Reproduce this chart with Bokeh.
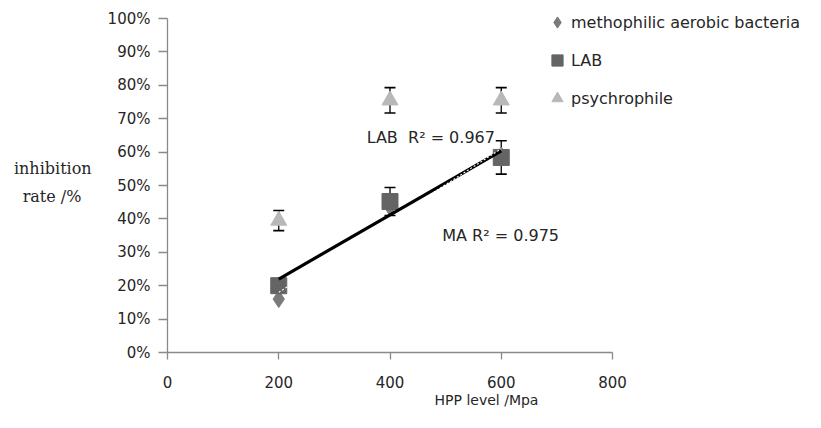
import numpy as np
from bokeh.plotting import figure
from bokeh.models import (ColumnDataSource, Whisker, TeeHead, FixedTicker, Label,
                          Legend, LegendItem, Range1d)
from bokeh.embed import file_html
from bokeh.resources import INLINE

# ---- data ----
hpp_levels = [200, 400, 600]
ma_rate = [0.16, 0.435, 0.59]
lab_rate = [0.20, 0.452, 0.584]
lab_err = [0.02, 0.042, 0.05]
psy_rate = [0.395, 0.755, 0.755]
psy_err = [0.03, 0.038, 0.038]
series_names = ["methophilic aerobic bacteria", "LAB", "psychrophile"]
x_ticks = [0, 200, 400, 600, 800]
y_ticks = [0.0, 0.1, 0.2, 0.3, 0.4, 0.5, 0.6, 0.7, 0.8, 0.9, 1.0]
y_tick_labels = ["0%", "10%", "20%", "30%", "40%", "50%", "60%", "70%", "80%", "90%", "100%"]
lab_r2_text = "LAB\u00a0\u00a0R\u00b2 = 0.967"
ma_r2_text = "MA R\u00b2 = 0.975"

FONT = "DejaVu Sans"
TXT = "#262626"
AXC = "#8a8a8a"

W, H = 805, 412
LEFT, TOP, BOTTOM = 167, 12, 60
AXIS_X_PX = 445          # pixel length of the 0..800 axis
AXIS_Y_PX = 334          # pixel length of the 0..100% axis
AXIS_TOP = 18            # pixel row of the 100% tick
x_end = 800 * (W - LEFT) / AXIS_X_PX
y_end = 1 + (AXIS_TOP - TOP) / AXIS_Y_PX

p = figure(width=W, height=H, output_backend="svg", toolbar_location=None,
           x_range=Range1d(0, x_end), y_range=Range1d(0, y_end),
           min_border_left=LEFT, min_border_right=0, min_border_top=TOP,
           min_border_bottom=BOTTOM)
p.outline_line_color = None
p.xgrid.visible = False
p.ygrid.visible = False

# axes
p.xaxis.ticker = FixedTicker(ticks=x_ticks)
p.xaxis.bounds = (0, 800)
p.yaxis.ticker = FixedTicker(ticks=y_ticks)
p.yaxis.bounds = (0, 1)
p.yaxis.major_label_overrides = {t: l for t, l in zip(y_ticks, y_tick_labels)}
for ax in (p.xaxis[0], p.yaxis[0]):
    ax.axis_line_color = AXC
    ax.axis_line_width = 1.3
    ax.major_tick_line_color = AXC
    ax.major_tick_line_width = 1.3
    ax.major_tick_in = 0
    ax.minor_tick_line_color = None
    ax.major_label_text_font = FONT
    ax.major_label_text_font_size = "15px"
    ax.major_label_text_color = TXT
    ax.axis_label_text_font_style = "normal"
    ax.axis_label_text_color = TXT
p.xaxis.major_tick_out = 7
p.yaxis.major_tick_out = 9
p.xaxis.major_label_standoff = 16
p.yaxis.major_label_standoff = 8
p.xaxis.axis_label = "HPP level /Mpa"
p.xaxis.axis_label_text_font = FONT
p.xaxis.axis_label_text_font_size = "14px"
p.xaxis.axis_label_standoff = 1
p.yaxis.axis_label = "inhibition\nrate /%\u00a0\u00a0"
p.yaxis.axis_label_orientation = "horizontal"
p.yaxis.axis_label_text_font = "DejaVu Serif"
p.yaxis.axis_label_text_font_size = "16px"
p.yaxis.axis_label_text_align = "center"
p.yaxis.axis_label_text_line_height = 1.45
p.yaxis.axis_label_standoff = 13

def make_src(vals, errs):
    return ColumnDataSource(dict(x=hpp_levels, y=vals,
                                 lo=[v - e for v, e in zip(vals, errs)],
                                 hi=[v + e for v, e in zip(vals, errs)]))

src_ma = ColumnDataSource(dict(x=hpp_levels, y=ma_rate))
src_lab = make_src(lab_rate, lab_err)
src_psy = make_src(psy_rate, psy_err)

r_ma = p.scatter("x", "y", source=src_ma, marker="diamond", size=17,
                 fill_color="#7a7a7a", line_color="#7a7a7a")
r_lab = p.scatter("x", "y", source=src_lab, marker="square", size=16,
                  fill_color="#646464", line_color="#646464")
r_psy = p.scatter("x", "y", source=src_psy, marker="triangle", size=16,
                  fill_color="#b8b8b8", line_color="#b8b8b8")

for src in (src_lab, src_psy):
    w = Whisker(base="x", upper="hi", lower="lo", source=src,
                line_color="black", line_width=1.3,
                upper_head=TeeHead(size=11, line_color="black", line_width=1.6),
                lower_head=TeeHead(size=11, line_color="black", line_width=1.6))
    p.add_layout(w)

# trendlines (least-squares fits)
xs = np.array(hpp_levels, dtype=float)
k_lab, b_lab = np.polyfit(xs, np.array(lab_rate), 1)
k_ma, b_ma = np.polyfit(xs, np.array(ma_rate), 1)
xe = [xs.min(), xs.max()]
p.line(xe, [k_lab * v + b_lab for v in xe], line_color="black", line_width=3.2)
p.line(xe, [k_ma * v + b_ma for v in xe], line_color="white", line_width=1.1,
       line_dash="2 2")

# R² labels
p.add_layout(Label(x=358, y=0.644, text=lab_r2_text, text_baseline="middle",
                   text_font=FONT, text_font_size="16px", text_color=TXT))
p.add_layout(Label(x=494, y=0.350, text=ma_r2_text, text_baseline="middle",
                   text_font=FONT, text_font_size="16px", text_color=TXT))

legend = Legend(items=[LegendItem(label=series_names[0], renderers=[r_ma]),
                       LegendItem(label=series_names[1], renderers=[r_lab]),
                       LegendItem(label=series_names[2], renderers=[r_psy])],
                location=(376, 239))
legend.border_line_color = None
legend.background_fill_alpha = 0
legend.label_text_font = FONT
legend.label_text_font_size = "16px"
legend.label_text_color = TXT
legend.glyph_width = 28
legend.glyph_height = 30
legend.spacing = 8
legend.padding = 0
legend.margin = 0
legend.label_standoff = 0
p.add_layout(legend)

open("out.html", "w").write(file_html(p, INLINE))
